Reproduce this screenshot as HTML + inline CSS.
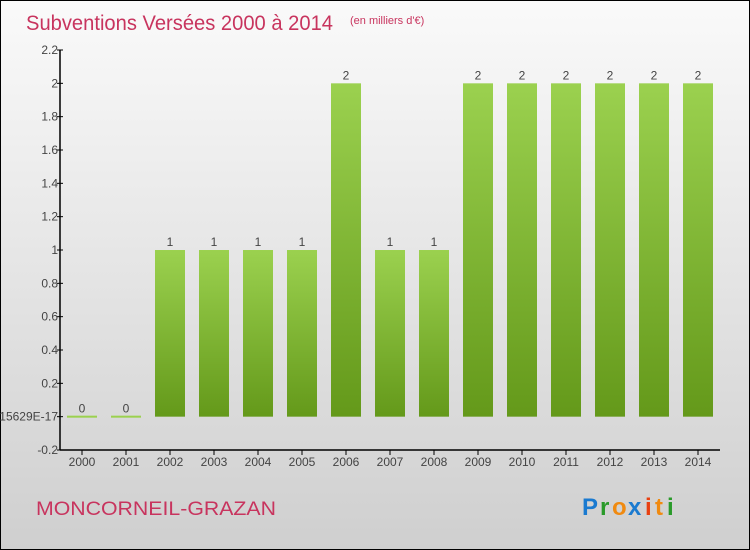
<!DOCTYPE html>
<html><head><meta charset="utf-8"><style>
html,body{margin:0;padding:0;}
body{width:750px;height:550px;overflow:hidden;}
svg{display:block;font-family:"Liberation Sans",sans-serif;}
</style></head><body>
<svg id="chart" width="750" height="550">
<defs>
<linearGradient id="bg" x1="0" y1="0" x2="0" y2="1"><stop offset="0" stop-color="#fafafa"/><stop offset="1" stop-color="#cfcfcf"/></linearGradient>
<linearGradient id="bar" x1="0" y1="0" x2="0" y2="1"><stop offset="0" stop-color="#9bd14f"/><stop offset="1" stop-color="#64991a"/></linearGradient>
</defs>
<rect x="0.5" y="0.5" width="749" height="549" fill="url(#bg)" stroke="#000"/>
<text x="26" y="30" font-size="21" textLength="307" lengthAdjust="spacingAndGlyphs" fill="#c8345e">Subventions Versées 2000 à 2014</text>
<text x="350" y="24" font-size="11" fill="#c8345e">(en milliers d'€)</text>
<text x="36" y="515" font-size="19" textLength="240" lengthAdjust="spacingAndGlyphs" fill="#c8345e">MONCORNEIL-GRAZAN</text>
<g font-size="24" font-family="'Liberation Sans',sans-serif" font-weight="bold">
<text x="582" y="515" fill="#1a7ad0">P</text><text x="600" y="515" fill="#2a9a2a">r</text><text x="612" y="515" fill="#f08a10">o</text><text x="628" y="515" fill="#1a7ad0">x</text><text x="645" y="515" fill="#e84010">i</text><text x="655" y="515" fill="#f08a10">t</text><text x="667" y="515" fill="#2a9a2a">i</text>
</g>
<g id="plot"></g>
</svg>
<script>
const categories=["2000","2001","2002","2003","2004","2005","2006","2007","2008","2009","2010","2011","2012","2013","2014"];
const values=[0,0,1,1,1,1,2,1,1,2,2,2,2,2,2];
const tickValues=[-0.2,0,0.2,0.4,0.6,0.8,1,1.2,1.4,1.6,1.8,2,2.2];
const tickLabels=["-0.2","-1.15629E-17","0.2","0.4","0.6","0.8","1","1.2","1.4","1.6","1.8","2","2.2"];
const NS="http://www.w3.org/2000/svg";
const g=document.getElementById('plot');
const x0=60,x1=720,yMin=-0.2,yMax=2.2,yTop=50,yBot=450;
const y=v=>yBot-(v-yMin)/(yMax-yMin)*(yBot-yTop);
const step=(x1-x0)/categories.length;
const xc=i=>x0+step*(i+0.5);
function mk(t,a){const e=document.createElementNS(NS,t);for(const k in a)e.setAttribute(k,a[k]);g.appendChild(e);return e;}
values.forEach((v,i)=>{
  const bw=30,top=y(Math.max(v,0)),h=Math.max(Math.abs(y(v)-y(0)),2);
  const r=mk('rect',{x:xc(i)-bw/2,y:v>0?top:y(0)-1,width:bw,height:v>0?h:2,fill:v>0?'url(#bar)':'#9bd14f'});
  
  
  const t=mk('text',{x:xc(i),y:y(v)-4,'font-size':12,fill:'#444','text-anchor':'middle'});
  t.textContent=String(v);
  
  
  const l=mk('text',{x:xc(i),y:yBot+16,'font-size':12,fill:'#444','text-anchor':'middle'});
  l.textContent=categories[i];
  
  
  const tk=mk('line',{x1:xc(i),x2:xc(i),y1:yBot,y2:yBot+5,stroke:'#000'});
  
  
});
tickValues.forEach((v,i)=>{
  const tk=mk('line',{x1:x0-3,x2:x0+3,y1:y(v),y2:y(v),stroke:'#000'});
  
  
  const t=mk('text',{x:x0-2,y:y(v)+4,'font-size':12,fill:'#444','text-anchor':'end'});
  t.textContent=tickLabels[i];
  
  
});
const ya=mk('line',{x1:x0,x2:x0,y1:yTop,y2:yBot,stroke:'#000','stroke-width':1.5});


const xa=mk('line',{x1:x0,x2:x1,y1:yBot,y2:yBot,stroke:'#000','stroke-width':1.5});


</script>
</body></html>
